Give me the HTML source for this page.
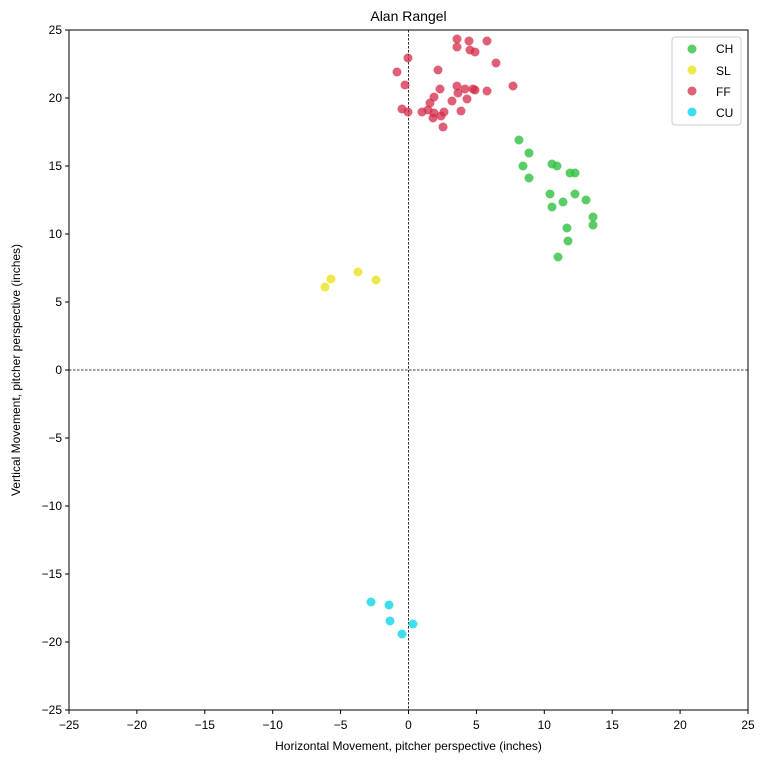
<!DOCTYPE html>
<html><head><meta charset="utf-8"><style>
body{margin:0;background:#fff;}
svg{display:block;font-family:"Liberation Sans","DejaVu Sans",sans-serif;}
</style></head><body>
<svg width="767" height="763" viewBox="0 0 767 763" xmlns="http://www.w3.org/2000/svg">
<rect width="767" height="763" fill="#fff"/>
<text x="408.5" y="21" font-size="14" text-anchor="middle">Alan Rangel</text>
<line x1="408.5" y1="30" x2="408.5" y2="710" stroke="#000" stroke-width="0.8" stroke-dasharray="2.5,1.5"/>
<line x1="69" y1="370" x2="748" y2="370" stroke="#000" stroke-width="0.8" stroke-dasharray="2.5,1.5"/>
<g fill="#32c040" fill-opacity="0.8">
<circle cx="519" cy="140" r="4.5"/><circle cx="529" cy="153" r="4.5"/><circle cx="552" cy="164" r="4.5"/><circle cx="557" cy="166" r="4.5"/><circle cx="570" cy="173" r="4.5"/><circle cx="575" cy="173" r="4.5"/><circle cx="523" cy="166" r="4.5"/><circle cx="529" cy="178" r="4.5"/><circle cx="550" cy="194" r="4.5"/><circle cx="575" cy="194" r="4.5"/><circle cx="586" cy="200" r="4.5"/><circle cx="563" cy="202" r="4.5"/><circle cx="552" cy="207" r="4.5"/><circle cx="593" cy="217" r="4.5"/><circle cx="593" cy="225" r="4.5"/><circle cx="567" cy="228" r="4.5"/><circle cx="568" cy="241" r="4.5"/><circle cx="558" cy="257" r="4.5"/>
</g>
<g fill="#ebe52a" fill-opacity="0.85">
<circle cx="331" cy="279" r="4.5"/><circle cx="358" cy="272" r="4.5"/><circle cx="376" cy="280" r="4.5"/><circle cx="325" cy="287" r="4.5"/>
</g>
<g fill="#d42a4a" fill-opacity="0.75">
<circle cx="457" cy="39" r="4.5"/><circle cx="469" cy="41" r="4.5"/><circle cx="487" cy="41" r="4.5"/><circle cx="457" cy="47" r="4.5"/><circle cx="470" cy="50" r="4.5"/><circle cx="475" cy="52" r="4.5"/><circle cx="408" cy="58" r="4.5"/><circle cx="496" cy="63" r="4.5"/><circle cx="397" cy="72" r="4.5"/><circle cx="438" cy="70" r="4.5"/><circle cx="405" cy="85" r="4.5"/><circle cx="457" cy="86" r="4.5"/><circle cx="465" cy="89" r="4.5"/><circle cx="473" cy="89" r="4.5"/><circle cx="475" cy="90" r="4.5"/><circle cx="487" cy="91" r="4.5"/><circle cx="513" cy="86" r="4.5"/><circle cx="440" cy="89" r="4.5"/><circle cx="458" cy="93" r="4.5"/><circle cx="434" cy="97" r="4.5"/><circle cx="467" cy="99" r="4.5"/><circle cx="430" cy="103" r="4.5"/><circle cx="452" cy="101" r="4.5"/><circle cx="402" cy="109" r="4.5"/><circle cx="408" cy="112" r="4.5"/><circle cx="428" cy="110" r="4.5"/><circle cx="422" cy="112" r="4.5"/><circle cx="444" cy="112" r="4.5"/><circle cx="434" cy="113" r="4.5"/><circle cx="461" cy="111" r="4.5"/><circle cx="441" cy="116" r="4.5"/><circle cx="433" cy="118" r="4.5"/><circle cx="443" cy="127" r="4.5"/>
</g>
<g fill="#10d4ea" fill-opacity="0.8">
<circle cx="371" cy="602" r="4.5"/><circle cx="389" cy="605" r="4.5"/><circle cx="390" cy="621" r="4.5"/><circle cx="413" cy="624" r="4.5"/><circle cx="402" cy="634" r="4.5"/>
</g>
<rect x="69" y="30" width="679" height="680" fill="none" stroke="#000" stroke-width="1"/>
<g font-size="12" fill="#000">
<g text-anchor="middle">
<text x="69" y="729">−25</text><text x="136.9" y="729">−20</text><text x="204.8" y="729">−15</text><text x="272.7" y="729">−10</text><text x="340.6" y="729">−5</text><text x="408.5" y="729">0</text><text x="476.4" y="729">5</text><text x="544.3" y="729">10</text><text x="612.2" y="729">15</text><text x="680.1" y="729">20</text><text x="748" y="729">25</text>
</g>
<g stroke="#000"><line x1="69" y1="710" x2="69" y2="714"/><line x1="136.9" y1="710" x2="136.9" y2="714"/><line x1="204.8" y1="710" x2="204.8" y2="714"/><line x1="272.7" y1="710" x2="272.7" y2="714"/><line x1="340.6" y1="710" x2="340.6" y2="714"/><line x1="408.5" y1="710" x2="408.5" y2="714"/><line x1="476.4" y1="710" x2="476.4" y2="714"/><line x1="544.3" y1="710" x2="544.3" y2="714"/><line x1="612.2" y1="710" x2="612.2" y2="714"/><line x1="680.1" y1="710" x2="680.1" y2="714"/><line x1="748" y1="710" x2="748" y2="714"/>
<line x1="65" y1="30" x2="69" y2="30"/><line x1="65" y1="98" x2="69" y2="98"/><line x1="65" y1="166" x2="69" y2="166"/><line x1="65" y1="234" x2="69" y2="234"/><line x1="65" y1="302" x2="69" y2="302"/><line x1="65" y1="370" x2="69" y2="370"/><line x1="65" y1="438" x2="69" y2="438"/><line x1="65" y1="506" x2="69" y2="506"/><line x1="65" y1="574" x2="69" y2="574"/><line x1="65" y1="642" x2="69" y2="642"/><line x1="65" y1="710" x2="69" y2="710"/></g>
<g text-anchor="end">
<text x="62" y="34">25</text><text x="62" y="102">20</text><text x="62" y="170">15</text><text x="62" y="238">10</text><text x="62" y="306">5</text><text x="62" y="374">0</text><text x="62" y="442">−5</text><text x="62" y="510">−10</text><text x="62" y="578">−15</text><text x="62" y="646">−20</text><text x="62" y="714">−25</text>
</g>
<text x="408.5" y="750" text-anchor="middle">Horizontal Movement, pitcher perspective (inches)</text>
<text transform="translate(20,370) rotate(-90)" text-anchor="middle">Vertical Movement, pitcher perspective (inches)</text>
</g>
<rect x="672" y="37" width="69" height="88" rx="3" fill="#fff" stroke="#ccc"/>
<g font-size="12">
<circle cx="692" cy="49" r="4.5" fill="#32c040" fill-opacity="0.8"/><text x="716" y="53">CH</text>
<circle cx="692" cy="70" r="4.5" fill="#ebe52a" fill-opacity="0.85"/><text x="716" y="75">SL</text>
<circle cx="692" cy="91" r="4.5" fill="#d42a4a" fill-opacity="0.75"/><text x="716" y="96">FF</text>
<circle cx="692" cy="112" r="4.5" fill="#10d4ea" fill-opacity="0.8"/><text x="716" y="117">CU</text>
</g>
</svg>
</body></html>
